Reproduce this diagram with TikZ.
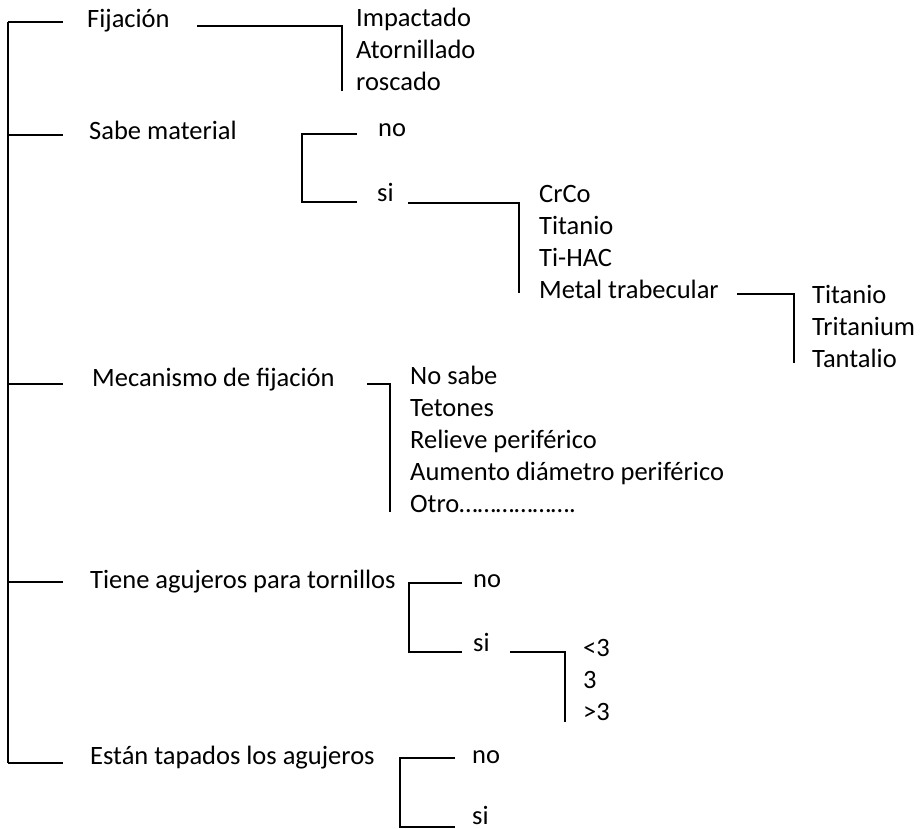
\documentclass[tikz,border=0pt]{standalone}
\usepackage{fontspec}
\setmainfont{Carlito}
\definecolor{inkblack}{RGB}{0, 0, 0}

\begin{document}
\begin{tikzpicture}[x=1pt,y=-1pt,
        every node/.style={anchor=base west,inner sep=0pt,text=inkblack,font=\fontsize{26.5}{32}\selectfont},
        branch/.style={inkblack,line width=1.4pt}]
        \useasboundingbox (0,0) rectangle (920,829);

        % Questions hanging from the main spine
        \node (fij) at (87,28) {Fijación};
        \node (sabe) at (89,140) {Sabe material};
        \node (meca) at (92,386) {Mecanismo de fijación};
        \node (tiene) at (90,588) {Tiene agujeros para tornillos};
        \node (estan) at (90,764) {Están tapados los agujeros};

        % Draw spine and one tick per question
        \coordinate (spinetop) at (8,22);
        \coordinate (spinebot) at (8,763);
        \draw[branch] (spinetop) -- (spinebot);
        \foreach \y/\name in {22/fij,135/sabe,384/meca,582/tiene,763/estan} {
            \coordinate (\name-tick) at (63,\y);
            \draw[branch] (spinetop |- \name-tick) -- (\name-tick);
        }

        % Fijacion options
        \foreach \txt [count=\i] in {Impactado,Atornillado,roscado}
            \node (fij\i) at (356,{27+32*(\i-1)}) {\txt};
        \coordinate (fijA) at (197,26);
        \coordinate (fijB) at (342,91);
        \draw[branch] (fijA) -| (fijB);

        % Sabe material: no / si
        \node (sabeno) at (378,137) {no};
        \node (sabesi) at (377,201) {si};
        \coordinate (sabeNo) at (357,134);
        \coordinate (sabeC) at (302,134);
        \coordinate (sabeSi) at (357,202);
        \draw[branch] (sabeNo) -- (sabeC) |- (sabeSi);

        % Materials
        \foreach \txt [count=\i] in {CrCo,Titanio,Ti-HAC,Metal trabecular}
            \node (mat\i) at (539,{202+32*(\i-1)}) {\txt};
        \coordinate (matA) at (408,203);
        \coordinate (matB) at (519,293);
        \draw[branch] (matA) -| (matB);

        % Metal trabecular kinds
        \foreach \txt [count=\i] in {Titanio,Tritanium,Tantalio}
            \node (trab\i) at (812,{303+32*(\i-1)}) {\txt};
        \coordinate (trabA) at (737,294);
        \coordinate (trabB) at (794,363);
        \draw[branch] (trabA) -| (trabB);

        % Mecanismo options
        \foreach \txt [count=\i] in {No sabe,Tetones,Relieve periférico,Aumento diámetro periférico,Otro……………….}
            \node (mec\i) at (410,{384+32*(\i-1)}) {\txt};
        \coordinate (mecA) at (367,384);
        \coordinate (mecB) at (390,512);
        \draw[branch] (mecA) -| (mecB);

        % Tiene agujeros: no / si
        \node (tieneno) at (473,587) {no};
        \node (tienesi) at (473,651) {si};
        \coordinate (tieneNo) at (462,583);
        \coordinate (tieneC) at (409,583);
        \coordinate (tieneSi) at (462,652);
        \draw[branch] (tieneNo) -- (tieneC) |- (tieneSi);

        % Number of holes
        \foreach \txt [count=\i] in {<3,3,>3}
            \node (num\i) at (583,{656+32*(\i-1)}) {\txt};
        \coordinate (numA) at (510,652);
        \coordinate (numB) at (565,722);
        \draw[branch] (numA) -| (numB);

        % Estan tapados: no / si
        \node (estanno) at (472,763) {no};
        \node (estansi) at (472,824) {si};
        \coordinate (estanNo) at (455,758);
        \coordinate (estanC) at (400,758);
        \coordinate (estanSi) at (455,827);
        \draw[branch] (estanNo) -- (estanC) |- (estanSi);
    \end{tikzpicture}
\end{document}
